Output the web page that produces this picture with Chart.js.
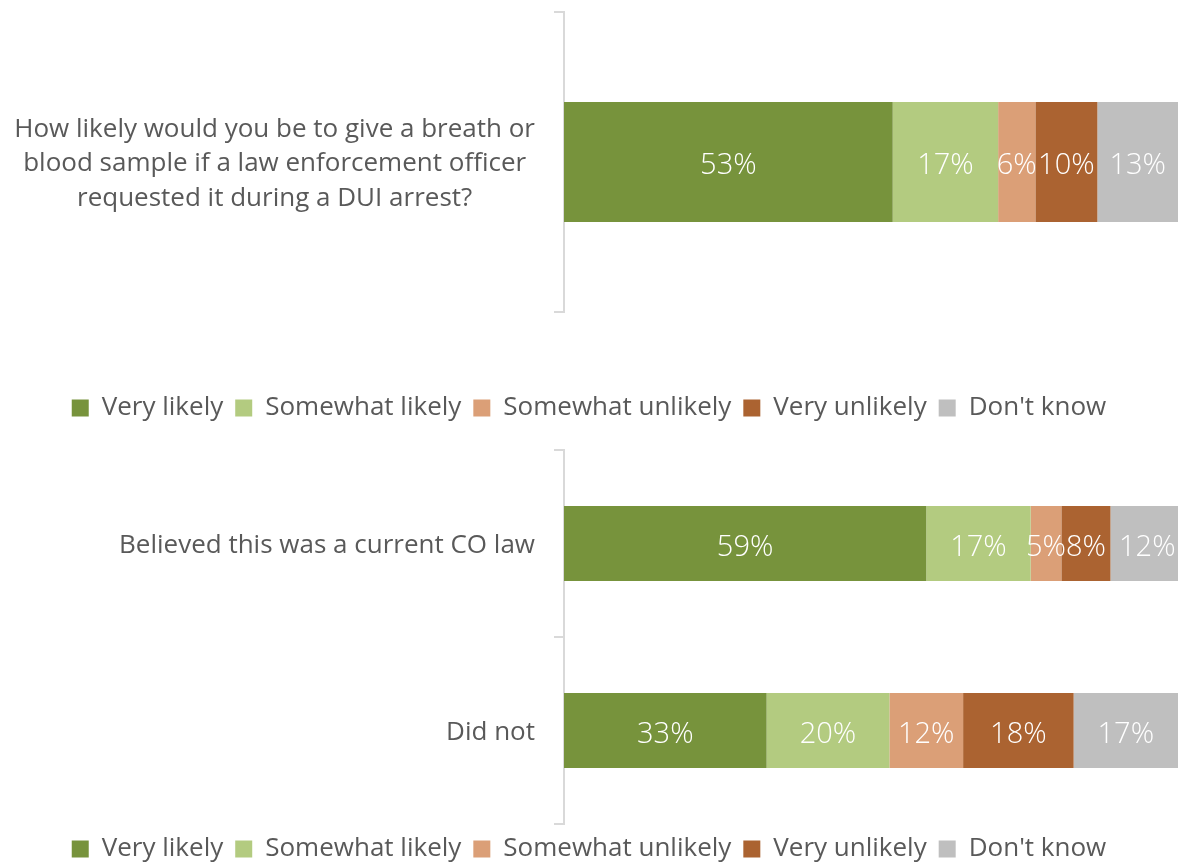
<!DOCTYPE html>
<html>
<head>
<meta charset="utf-8">
<script src="https://cdn.jsdelivr.net/npm/chart.js@4.4.1/dist/chart.umd.min.js"></script>
<style>
  body { margin: 0; background: #fff; overflow: hidden; }
  #top { position: absolute; left: 0; top: 0; width: 1178px; height: 431px; }
  #bottom { position: absolute; left: 0; top: 440px; width: 1178px; height: 432px; }
</style>
</head>
<body>
<div id="top"><canvas id="chart1"></canvas></div>
<div id="bottom"><canvas id="chart2"></canvas></div>
<script>
// answer categories (legend)
var answers = ["Very likely", "Somewhat likely", "Somewhat unlikely", "Very unlikely", "Don't know"];
var answerColors = ["#77933c", "#b3cb80", "#db9f77", "#ab6331", "#bfbfbf"];

// top chart: all respondents (rounded shares add up to 99)
var topLabels = [["How likely would you be to give a breath or", "blood sample if a law enforcement officer", "requested it during a DUI arrest?"]];
var topVeryLikely = [53];
var topSomewhatLikely = [17];
var topSomewhatUnlikely = [6];
var topVeryUnlikely = [10];
var topDontKnow = [13];
var topMax = 99;

// bottom chart: split by belief about CO law
var lawLabels = ["Believed this was a current CO law", "Did not"];
var lawVeryLikely = [59, 33];
var lawSomewhatLikely = [17, 20];
var lawSomewhatUnlikely = [5, 12];
var lawVeryUnlikely = [8, 18];
var lawDontKnow = [12, 17];
var lawMax = 100;

var FONT = "'Open Sans', 'DejaVu Sans', sans-serif";
var TEXT = "#595959";
var AXIS = "#d9d9d9";

// draw the percent inside each segment
var segLabels = {
  id: "segLabels",
  afterDatasetsDraw: function(chart) {
    var ctx = chart.ctx;
    ctx.save();
    ctx.font = "300 29px " + FONT;
    ctx.fillStyle = "#ffffff";
    ctx.textAlign = "center";
    ctx.textBaseline = "middle";
    chart.data.datasets.forEach(function(ds, i) {
      chart.getDatasetMeta(i).data.forEach(function(bar, j) {
        ctx.fillText(ds.data[j] + "%", (bar.x + bar.base) / 2, bar.y + 4);
      });
    });
    ctx.restore();
  }
};

function makeSets(series) {
  return series.map(function(vals, i) {
    return {
      label: answers[i],
      data: vals,
      backgroundColor: answerColors[i],
      borderWidth: 0,
      categoryPercentage: 1,
      barPercentage: 0.4
    };
  });
}

function makeOptions(crossAlign, padTop, spacer, xMax) {
  return {
    indexAxis: "y",
    responsive: true,
    maintainAspectRatio: false,
    animation: false,
    layout: { padding: { top: padTop, left: 0, right: 0, bottom: 0 } },
    scales: {
      x: {
        stacked: true, min: 0, max: xMax,
        ticks: { display: false },
        grid: { display: false },
        border: { display: false },
        afterFit: function(s) { s.height = spacer; }
      },
      y: {
        stacked: true,
        afterFit: function(s) { s.width = 564; s.paddingTop = 0; s.paddingBottom = 0; },
        border: { display: true, color: AXIS, width: 2 },
        grid: { drawOnChartArea: false, drawTicks: true, tickLength: 10, color: AXIS, lineWidth: 2 },
        ticks: {
          crossAlign: crossAlign,
          padding: 19,
          labelOffset: 2,
          color: TEXT,
          font: { family: FONT, size: 26, weight: 400, lineHeight: 1.33 }
        }
      }
    },
    plugins: {
      legend: {
        position: "bottom",
        labels: {
          boxWidth: 17, boxHeight: 17, padding: 12,
          color: TEXT,
          font: { family: FONT, size: 26, weight: 400 }
        }
      },
      tooltip: { enabled: false }
    }
  };
}

new Chart(document.getElementById("chart1"), {
  type: "bar",
  data: {
    labels: topLabels,
    datasets: makeSets([topVeryLikely, topSomewhatLikely, topSomewhatUnlikely, topVeryUnlikely, topDontKnow])
  },
  options: makeOptions("center", 12, 71, topMax),
  plugins: [segLabels]
});

new Chart(document.getElementById("chart2"), {
  type: "bar",
  data: {
    labels: lawLabels,
    datasets: makeSets([lawVeryLikely, lawSomewhatLikely, lawSomewhatUnlikely, lawVeryUnlikely, lawDontKnow])
  },
  options: makeOptions("near", 10, 0, lawMax),
  plugins: [segLabels]
});
</script>
</body>
</html>
